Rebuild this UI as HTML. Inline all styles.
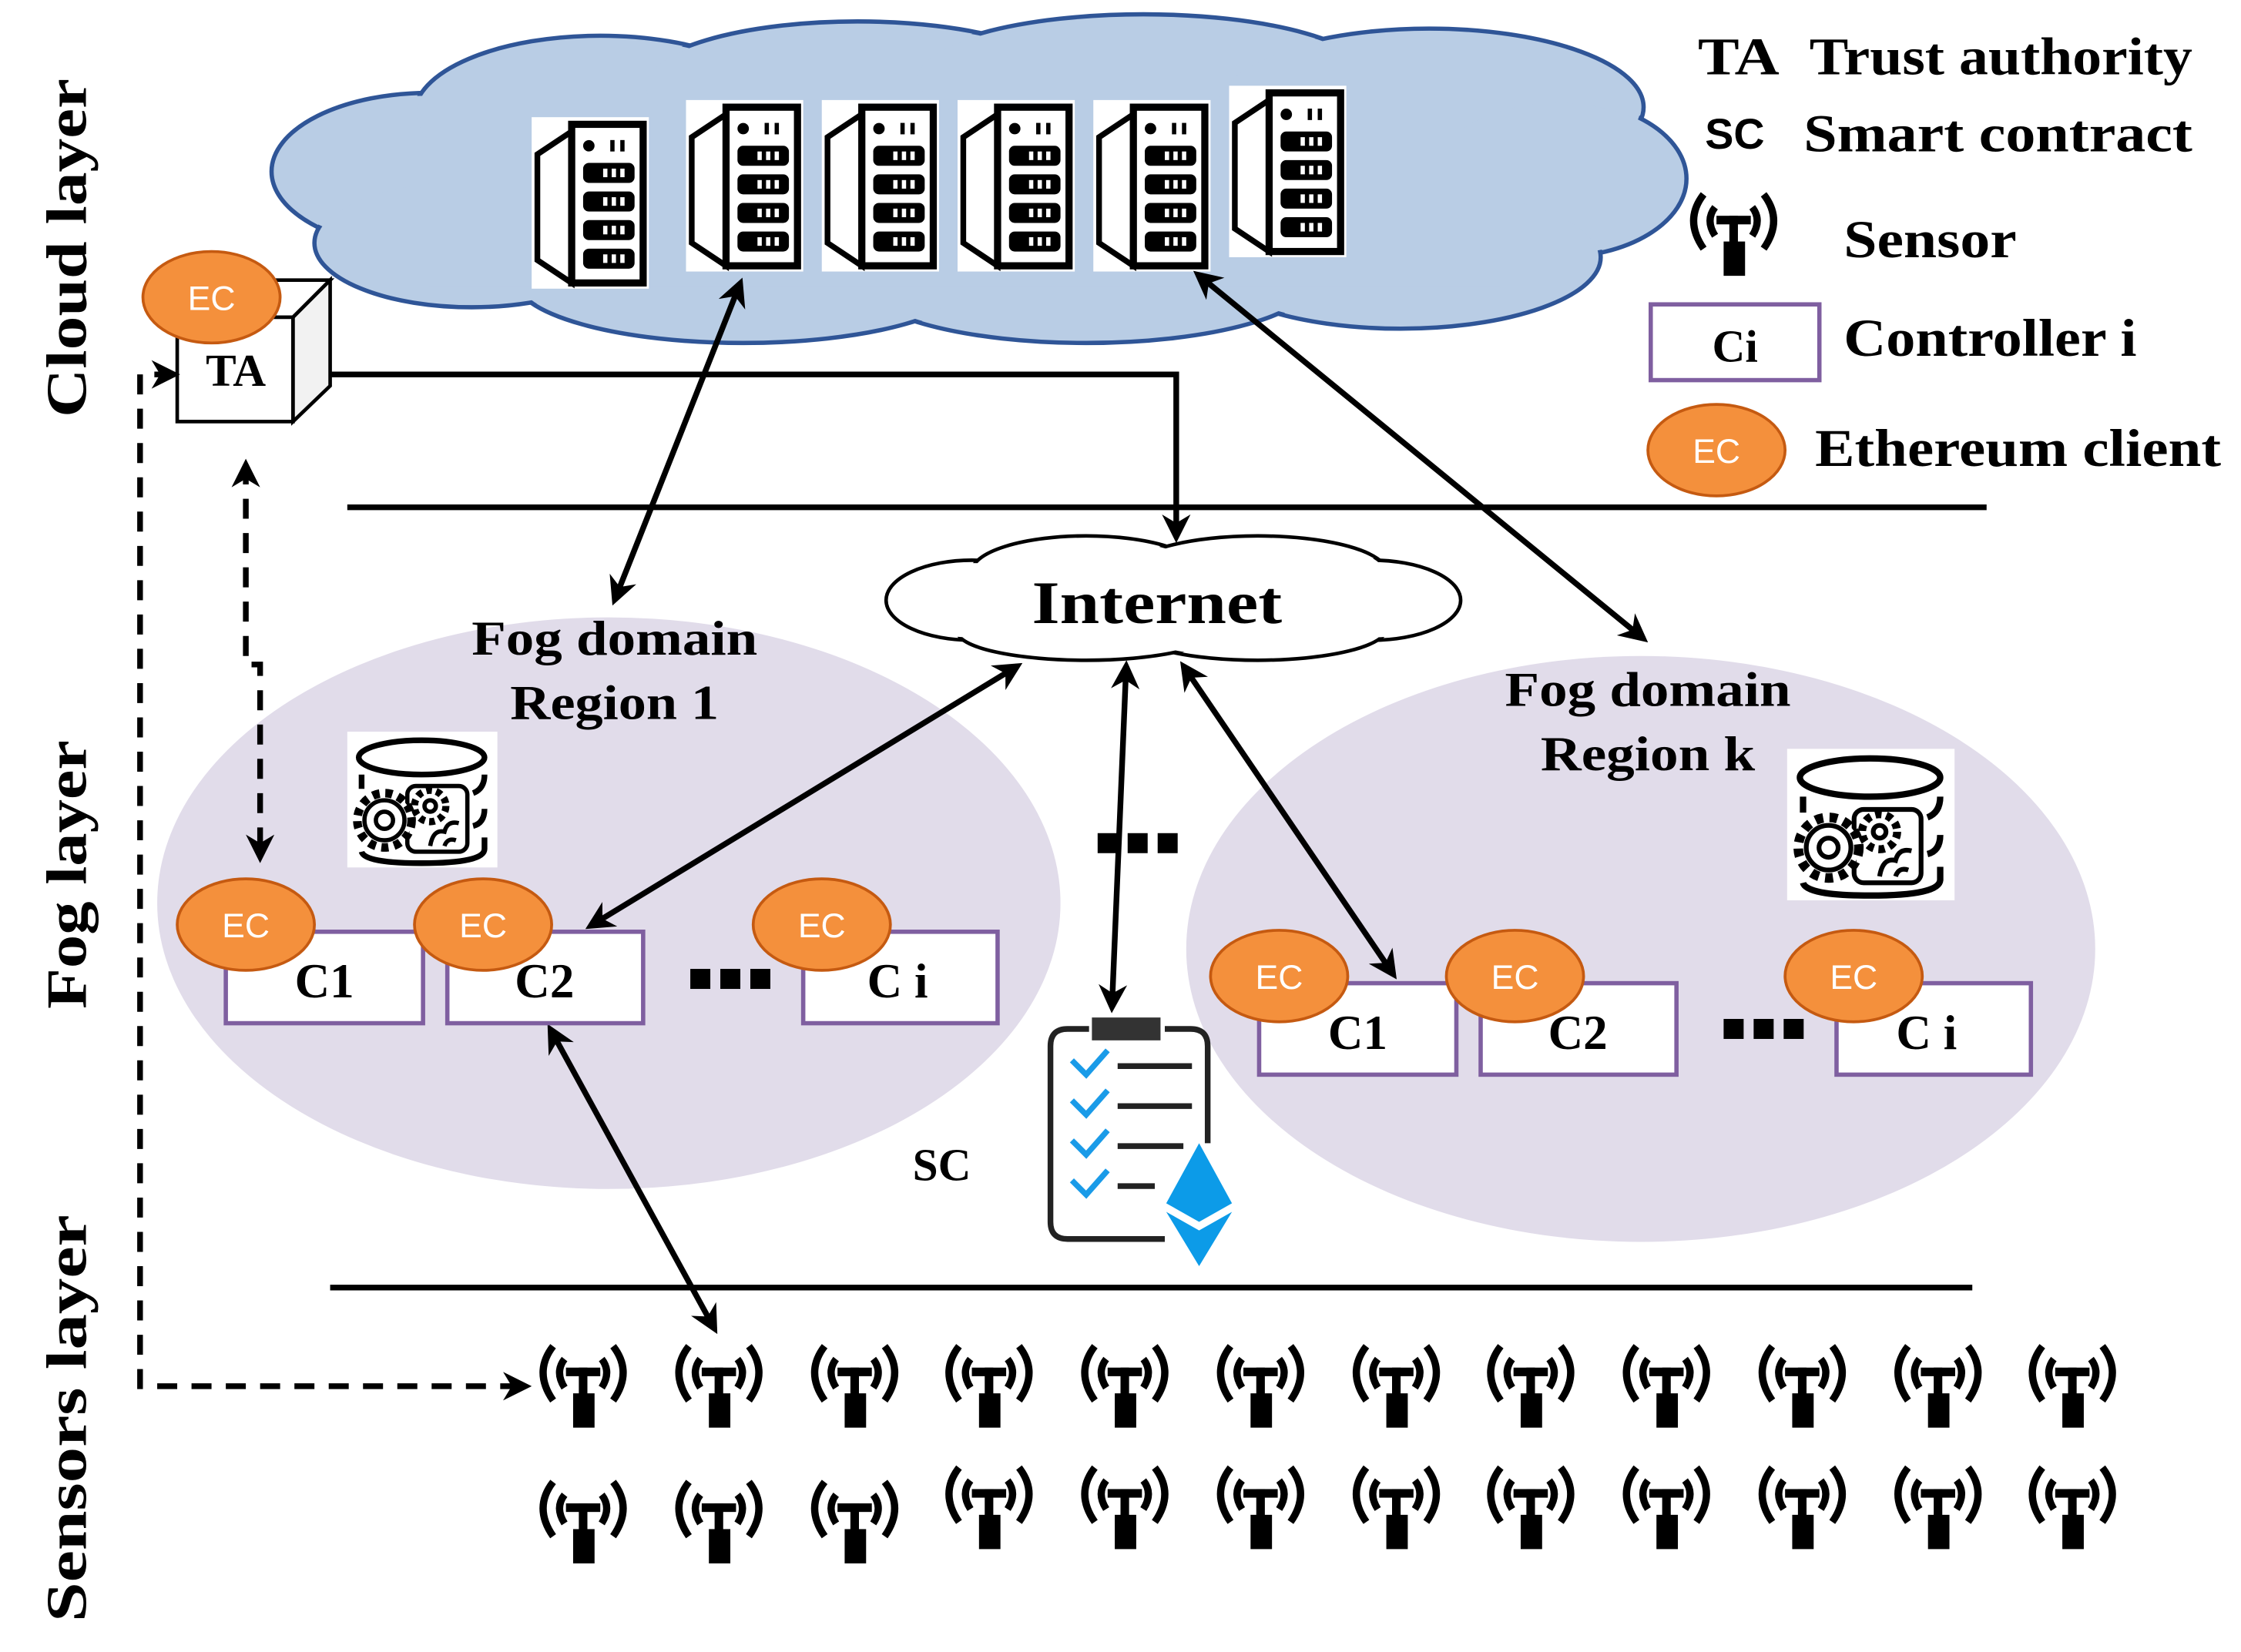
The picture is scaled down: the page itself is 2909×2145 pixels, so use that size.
<!DOCTYPE html>
<html><head><meta charset="utf-8"><style>
html,body{margin:0;padding:0;background:#fff;overflow:hidden}
svg{display:block}
text{font-family:"Liberation Serif",serif;font-weight:bold}
</style></head><body>
<svg width="2909" height="2145" viewBox="0 0 1568 1156" preserveAspectRatio="none" xmlns="http://www.w3.org/2000/svg">
<defs>
<marker id="ah" viewBox="0 0 10 10" refX="8" refY="5" markerWidth="5" markerHeight="5" orient="auto-start-reverse"><path d="M0,0 L10,5 L0,10 L3,5 z" fill="#000"/></marker>
<symbol id="srv" viewBox="0 0 82 120" overflow="visible">
<rect x="0" y="0" width="82" height="120" fill="#fff"/>
<path d="M4,26 L28,10 L28,116 L4,100 Z" fill="#fff" stroke="#000" stroke-width="4"/>
<rect x="28" y="5" width="50" height="111" fill="#fff" stroke="#000" stroke-width="5"/>
<circle cx="40" cy="20" r="4"/><rect x="55" y="16" width="3" height="8"/><rect x="62" y="16" width="3" height="8"/>
<rect x="36" y="32" width="36" height="14" rx="4"/><rect x="36" y="52" width="36" height="14" rx="4"/><rect x="36" y="72" width="36" height="14" rx="4"/><rect x="36" y="92" width="36" height="14" rx="4"/>
<g fill="#fff"><rect x="50" y="36" width="3" height="6"/><rect x="56" y="36" width="3" height="6"/><rect x="62" y="36" width="3" height="6"/>
<rect x="50" y="56" width="3" height="6"/><rect x="56" y="56" width="3" height="6"/><rect x="62" y="56" width="3" height="6"/>
<rect x="50" y="76" width="3" height="6"/><rect x="56" y="76" width="3" height="6"/><rect x="62" y="76" width="3" height="6"/>
<rect x="50" y="96" width="3" height="6"/><rect x="56" y="96" width="3" height="6"/><rect x="62" y="96" width="3" height="6"/></g>
</symbol>
<symbol id="sen" viewBox="0 0 70 65" overflow="visible">
<path d="M14,2 Q0,20 14,40" fill="none" stroke="#000" stroke-width="5"/>
<path d="M22,11 Q15,20 22,31" fill="none" stroke="#000" stroke-width="5"/>
<path d="M56,2 Q70,20 56,40" fill="none" stroke="#000" stroke-width="5"/>
<path d="M48,11 Q55,20 48,31" fill="none" stroke="#000" stroke-width="5"/>
<rect x="23" y="17" width="24" height="6"/><rect x="32" y="17" width="6" height="20"/><rect x="28" y="35" width="15" height="24"/>
</symbol>
<symbol id="db" viewBox="0 0 105 95" overflow="visible">
<rect x="0" y="0" width="105" height="95" fill="#fff"/>
<ellipse cx="52" cy="18" rx="44" ry="12" fill="none" stroke="#000" stroke-width="4"/>
<path d="M10,30 L10,40 M96,30 Q96,40 88,43 M96,54 Q96,64 88,66 M96,74 L96,82 Q96,92 52,92 Q12,92 10,84" fill="none" stroke="#000" stroke-width="4"/>
<rect x="42" y="38" width="42" height="46" rx="6" fill="none" stroke="#000" stroke-width="3"/>
<circle cx="26" cy="62" r="19" fill="#fff" stroke="#000" stroke-width="6" stroke-dasharray="5 4"/>
<circle cx="26" cy="62" r="14" fill="#fff" stroke="#000" stroke-width="3"/>
<circle cx="26" cy="62" r="6" fill="none" stroke="#000" stroke-width="3"/>
<circle cx="58" cy="52" r="11" fill="#fff" stroke="#000" stroke-width="5" stroke-dasharray="4 3"/>
<circle cx="58" cy="52" r="4" fill="none" stroke="#000" stroke-width="3"/>
<path d="M58,80 Q60,68 68,70 Q70,62 78,64 M68,80 Q70,74 76,76" fill="none" stroke="#000" stroke-width="3"/>
</symbol>
<g id="ec"><ellipse cx="0" cy="0" rx="48" ry="32" fill="#f4903c" stroke="#c55a11" stroke-width="2"/><text x="0" y="9" text-anchor="middle" font-size="24" fill="#fff" style="font-family:'Liberation Sans',sans-serif;font-weight:normal">EC</text></g>
</defs>

<!-- Cloud -->
<g fill="#b9cde5" stroke="#2f5597" stroke-width="3">
<ellipse cx="300" cy="120" rx="110" ry="55"/>
<ellipse cx="420" cy="80" rx="130" ry="55"/>
<ellipse cx="600" cy="60" rx="150" ry="45"/>
<ellipse cx="800" cy="55" rx="160" ry="45"/>
<ellipse cx="1000" cy="75" rx="150" ry="55"/>
<ellipse cx="1090" cy="125" rx="90" ry="55"/>
<ellipse cx="980" cy="180" rx="140" ry="50"/>
<ellipse cx="760" cy="195" rx="160" ry="45"/>
<ellipse cx="520" cy="195" rx="160" ry="45"/>
<ellipse cx="330" cy="170" rx="110" ry="45"/>
</g>
<g fill="#b9cde5">
<ellipse cx="300" cy="120" rx="108" ry="53"/>
<ellipse cx="420" cy="80" rx="128" ry="53"/>
<ellipse cx="600" cy="60" rx="148" ry="43"/>
<ellipse cx="800" cy="55" rx="158" ry="43"/>
<ellipse cx="1000" cy="75" rx="148" ry="53"/>
<ellipse cx="1090" cy="125" rx="88" ry="53"/>
<ellipse cx="980" cy="180" rx="138" ry="48"/>
<ellipse cx="760" cy="195" rx="158" ry="43"/>
<ellipse cx="520" cy="195" rx="158" ry="43"/>
<ellipse cx="330" cy="170" rx="108" ry="43"/>
<rect x="300" y="90" width="750" height="110"/>
</g>
<use href="#srv" x="372" y="82" width="82" height="120"/>
<use href="#srv" x="480" y="70" width="82" height="120"/>
<use href="#srv" x="575" y="70" width="82" height="120"/>
<use href="#srv" x="670" y="70" width="82" height="120"/>
<use href="#srv" x="765" y="70" width="82" height="120"/>
<use href="#srv" x="860" y="60" width="82" height="120"/>

<!-- fog ellipses -->
<ellipse cx="426" cy="632" rx="316" ry="200" fill="#e1dcea"/>
<ellipse cx="1148" cy="664" rx="318" ry="205" fill="#e1dcea"/>

<!-- layer lines -->
<line x1="243" y1="355" x2="1390" y2="355" stroke="#000" stroke-width="4"/>
<line x1="231" y1="901" x2="1380" y2="901" stroke="#000" stroke-width="4"/>

<!-- Internet cloud -->
<g fill="#fff" stroke="#000" stroke-width="2.5">
<ellipse cx="680" cy="420" rx="60" ry="28"/>
<ellipse cx="760" cy="400" rx="80" ry="25"/>
<ellipse cx="880" cy="400" rx="90" ry="25"/>
<ellipse cx="960" cy="420" rx="62" ry="28"/>
<ellipse cx="880" cy="440" rx="90" ry="22"/>
<ellipse cx="760" cy="442" rx="90" ry="20"/>
</g>
<g fill="#fff">
<ellipse cx="680" cy="420" rx="58" ry="26"/>
<ellipse cx="760" cy="400" rx="78" ry="23"/>
<ellipse cx="880" cy="400" rx="88" ry="23"/>
<ellipse cx="960" cy="420" rx="60" ry="26"/>
<ellipse cx="880" cy="440" rx="88" ry="20"/>
<ellipse cx="760" cy="442" rx="88" ry="18"/>
<rect x="680" y="400" width="280" height="42"/>
</g>
<text x="722" y="436" font-size="42" textLength="175" lengthAdjust="spacingAndGlyphs">Internet</text>

<!-- TA cube -->
<path d="M124,222 L150,196 L231,196 L205,222 Z" fill="#fff" stroke="#000" stroke-width="2.5"/>
<path d="M205,222 L231,196 L231,270 L205,295 Z" fill="#f2f2f2" stroke="#000" stroke-width="2.5"/>
<rect x="124" y="222" width="81" height="73" fill="#fff" stroke="#000" stroke-width="2.5"/>
<text x="165" y="270" text-anchor="middle" font-size="32">TA</text>
<use href="#ec" x="148" y="208"/>

<!-- Arrows -->
<g stroke="#000" stroke-width="4" fill="none">
<polyline points="232,262 823,262 823,376" marker-end="url(#ah)"/>
<line x1="518" y1="198" x2="430" y2="420" marker-start="url(#ah)" marker-end="url(#ah)"/>
<line x1="838" y1="192" x2="1150" y2="447" marker-start="url(#ah)" marker-end="url(#ah)"/>
<line x1="712" y1="466" x2="413" y2="648" marker-start="url(#ah)" marker-end="url(#ah)"/>
<line x1="788" y1="466" x2="778" y2="705" marker-start="url(#ah)" marker-end="url(#ah)"/>
<line x1="828" y1="466" x2="975" y2="682" marker-start="url(#ah)" marker-end="url(#ah)"/>
<line x1="385" y1="720" x2="500" y2="930" marker-start="url(#ah)" marker-end="url(#ah)"/>
</g>
<g stroke="#000" stroke-width="4" fill="none" stroke-dasharray="14 10">
<polyline points="172,325 172,465 182,465 182,600" marker-start="url(#ah)" marker-end="url(#ah)"/>
<polyline points="122,262 98,262 98,970 368,970" marker-start="url(#ah)" marker-end="url(#ah)"/>
</g>

<!-- DB icons -->
<use href="#db" x="243" y="512" width="105" height="95"/>
<use href="#db" x="1250" y="524" width="118" height="106"/>

<!-- Fog domain labels -->
<text x="330" y="458" font-size="34" textLength="200" lengthAdjust="spacingAndGlyphs">Fog domain</text>
<text x="357" y="503" font-size="34" textLength="146" lengthAdjust="spacingAndGlyphs">Region 1</text>
<text x="1053" y="494" font-size="34" textLength="200" lengthAdjust="spacingAndGlyphs">Fog domain</text>
<text x="1078" y="539" font-size="34" textLength="150" lengthAdjust="spacingAndGlyphs">Region k</text>

<!-- Controllers -->
<g fill="#fff" stroke="#7f5fa0" stroke-width="3">
<rect x="158" y="652" width="138" height="64"/>
<rect x="313" y="652" width="137" height="64"/>
<rect x="562" y="652" width="136" height="64"/>
<rect x="881" y="688" width="138" height="64"/>
<rect x="1036" y="688" width="137" height="64"/>
<rect x="1285" y="688" width="136" height="64"/>
</g>
<g font-size="34">
<text x="227" y="698" text-anchor="middle">C1</text>
<text x="381" y="698" text-anchor="middle">C2</text>
<text x="628" y="698" text-anchor="middle">C i</text>
<text x="950" y="734" text-anchor="middle">C1</text>
<text x="1104" y="734" text-anchor="middle">C2</text>
<text x="1348" y="734" text-anchor="middle">C i</text>
</g>
<use href="#ec" x="172" y="647"/>
<use href="#ec" x="338" y="647"/>
<use href="#ec" x="575" y="647"/>
<use href="#ec" x="895" y="683"/>
<use href="#ec" x="1060" y="683"/>
<use href="#ec" x="1297" y="683"/>

<!-- dots -->
<g fill="#000">
<rect x="768" y="583" width="14" height="14"/><rect x="789" y="583" width="14" height="14"/><rect x="810" y="583" width="14" height="14"/>
<rect x="483" y="678" width="14" height="14"/><rect x="504" y="678" width="14" height="14"/><rect x="525" y="678" width="14" height="14"/>
<rect x="1206" y="713" width="14" height="14"/><rect x="1227" y="713" width="14" height="14"/><rect x="1248" y="713" width="14" height="14"/>
</g>

<!-- SC clipboard -->
<path d="M762,720 L747,720 Q735,720 735,732 L735,855 Q735,867 747,867 L815,867" fill="none" stroke="#222" stroke-width="4"/>
<path d="M815,720 L833,720 Q845,720 845,732 L845,800" fill="none" stroke="#222" stroke-width="4"/>
<rect x="764" y="712" width="48" height="16" fill="#333"/>
<g stroke="#1a9be8" stroke-width="4" fill="none">
<path d="M750,742 L760,752 L775,735"/><path d="M750,770 L760,780 L775,763"/><path d="M750,798 L760,808 L775,791"/><path d="M750,826 L760,836 L775,819"/>
</g>
<g stroke="#222" stroke-width="4">
<line x1="782" y1="746" x2="834" y2="746"/><line x1="782" y1="774" x2="834" y2="774"/><line x1="782" y1="802" x2="828" y2="802"/><line x1="782" y1="830" x2="808" y2="830"/>
</g>
<path d="M839,800 L862,842 L839,855 L816,842 Z" fill="#0c9be8"/>
<path d="M816,848 L839,861 L862,848 L839,886 Z" fill="#0c9be8"/>
<text x="659" y="826" text-anchor="middle" font-size="32">SC</text>

<!-- Sensors -->
<g>
<use href="#sen" x="373" y="940" width="70" height="65"/><use href="#sen" x="468" y="940" width="70" height="65"/><use href="#sen" x="563" y="940" width="70" height="65"/><use href="#sen" x="657" y="940" width="70" height="65"/><use href="#sen" x="752" y="940" width="70" height="65"/><use href="#sen" x="847" y="940" width="70" height="65"/><use href="#sen" x="942" y="940" width="70" height="65"/><use href="#sen" x="1036" y="940" width="70" height="65"/><use href="#sen" x="1131" y="940" width="70" height="65"/><use href="#sen" x="1226" y="940" width="70" height="65"/><use href="#sen" x="1321" y="940" width="70" height="65"/><use href="#sen" x="1415" y="940" width="70" height="65"/>
<use href="#sen" x="373" y="1035" width="70" height="65"/><use href="#sen" x="468" y="1035" width="70" height="65"/><use href="#sen" x="563" y="1035" width="70" height="65"/><use href="#sen" x="657" y="1025" width="70" height="65"/><use href="#sen" x="752" y="1025" width="70" height="65"/><use href="#sen" x="847" y="1025" width="70" height="65"/><use href="#sen" x="942" y="1025" width="70" height="65"/><use href="#sen" x="1036" y="1025" width="70" height="65"/><use href="#sen" x="1131" y="1025" width="70" height="65"/><use href="#sen" x="1226" y="1025" width="70" height="65"/><use href="#sen" x="1321" y="1025" width="70" height="65"/><use href="#sen" x="1415" y="1025" width="70" height="65"/>
</g>

<!-- Layer labels -->
<text transform="translate(60,292) rotate(-90)" font-size="40" textLength="237" lengthAdjust="spacingAndGlyphs">Cloud layer</text>
<text transform="translate(60,706) rotate(-90)" font-size="40" textLength="188" lengthAdjust="spacingAndGlyphs">Fog layer</text>
<text transform="translate(60,1135) rotate(-90)" font-size="40" textLength="285" lengthAdjust="spacingAndGlyphs">Sensors layer</text>

<!-- Legend -->
<text x="1188" y="52" font-size="37" textLength="57" lengthAdjust="spacingAndGlyphs">TA</text>
<text x="1266" y="52" font-size="37" textLength="268" lengthAdjust="spacingAndGlyphs">Trust authority</text>
<text x="1193" y="104" font-size="30" style="font-family:'Liberation Sans',sans-serif">SC</text>
<text x="1262" y="106" font-size="37" textLength="272" lengthAdjust="spacingAndGlyphs">Smart contract</text>
<use href="#sen" x="1178" y="134" width="70" height="65"/>
<text x="1290" y="180" font-size="37" textLength="121" lengthAdjust="spacingAndGlyphs">Sensor</text>
<rect x="1155" y="213" width="118" height="53" fill="#fff" stroke="#7f5fa0" stroke-width="3"/>
<text x="1214" y="253" text-anchor="middle" font-size="32">Ci</text>
<text x="1290" y="249" font-size="37" textLength="205" lengthAdjust="spacingAndGlyphs">Controller i</text>
<use href="#ec" x="1201" y="315"/>
<text x="1270" y="326" font-size="37" textLength="284" lengthAdjust="spacingAndGlyphs">Ethereum client</text>
</svg>
</body></html>
